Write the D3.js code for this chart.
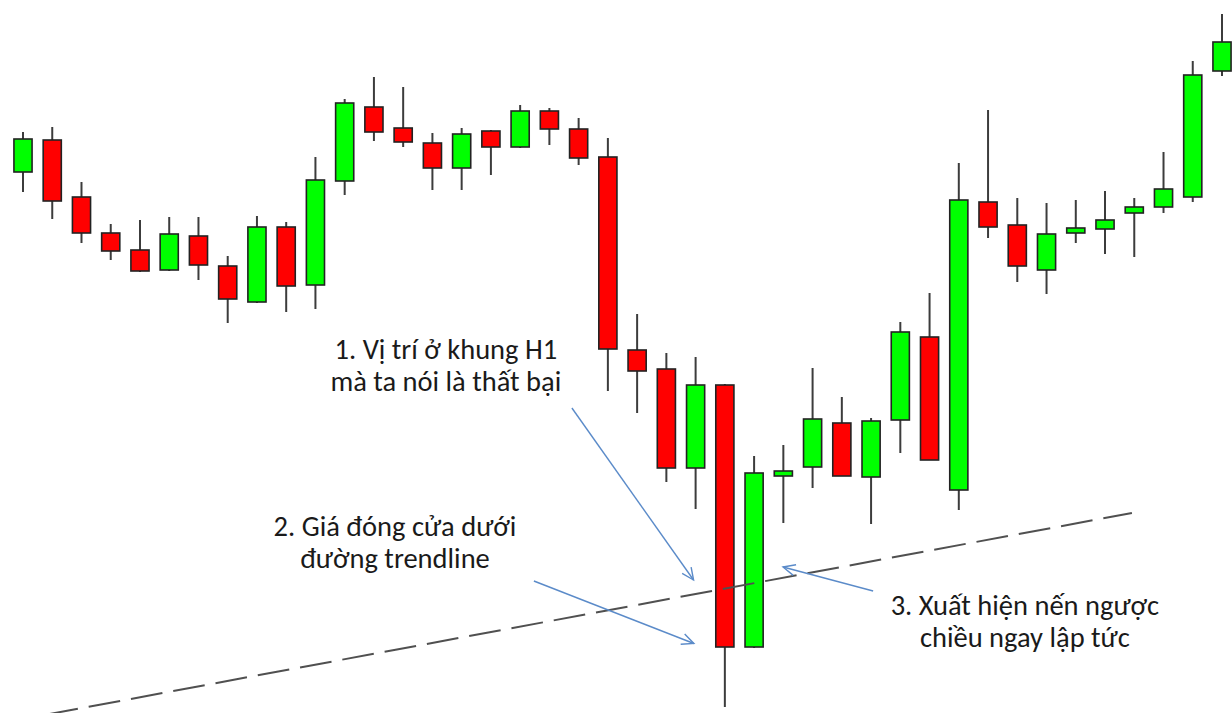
<!DOCTYPE html>
<html>
<head>
<meta charset="utf-8">
<script src="https://cdn.jsdelivr.net/npm/d3@7"></script>
<style>
  html, body { margin: 0; padding: 0; background: #fff; }
  #chart-container { width: 1232px; height: 713px; overflow: hidden; }
  text { font-family: Calibri, Carlito, Lato, "Open Sans", sans-serif; }
</style>
</head>
<body>
<div id="chart-container"></div>
<script>
   // candle index (no time labels on the picture)
   const candles = d3.range(42);

   // prices in points
   const opens  = [548, 580, 523, 487, 470, 450, 484, 454, 418, 493, 435, 539, 613, 592, 577, 552, 589, 573, 609, 591, 563,
                   370, 351, 252, 335,  73, 244, 253, 297, 243, 300, 383, 230, 518, 495, 450, 487, 491, 507, 513, 523, 649];
   const highs  = [588, 593, 538, 496, 500, 503, 503, 464, 504, 498, 563, 621, 643, 633, 587, 592, 590, 615, 612, 602, 582,
                   406, 367, 363, 336, 264, 275, 352, 323, 302, 398, 427, 557, 610, 522, 517, 520, 529, 522, 568, 659, 706];
   const lows   = [528, 501, 477, 460, 448, 449, 440, 397, 417, 408, 411, 525, 579, 573, 530, 530, 545, 572, 575, 555, 329,
                   307, 238, 211,  13,  72, 197, 232, 244, 196, 267, 260, 210, 482, 438, 426, 477, 466, 463, 507, 518, 644];
   const closes = [581, 519, 487, 469, 449, 486, 455, 421, 493, 434, 540, 617, 588, 578, 552, 586, 573, 609, 591, 562, 371,
                   349, 252, 335,  73, 247, 249, 301, 244, 299, 388, 260, 520, 493, 454, 486, 492, 500, 513, 531, 645, 678];

   // dashed trendline: [candle index, price]
   const trendline = [[0.8, 5.4], [37.92, 207]];

   // notes: [index, price] from -> to
   const arrows = [
       { from: [18.77, 312], to: [22.93, 140] },
       { from: [17.47, 139], to: [22.94, 76.5] },
       { from: [29.07, 129], to: [25.99, 153] }
   ];
   const notes = [
       { at: [14.46, 361], lines: ["1. Vị trí ở khung H1", "mà ta nói là thất bại"] },
       { at: [12.72, 184], lines: ["2. Giá đóng cửa dưới", "đường trendline"] },
       { at: [34.26, 105], lines: ["3. Xuất hiện nến ngược", "chiều ngay lập tức"] }
   ];

   const data = candles.map(i => ({
       i, open: opens[i], high: highs[i], low: lows[i], close: closes[i]
   }));

   const margin = { right: 0, top: 0, left: 0, bottom: 0 };
   const width = 1232 - margin.left - margin.right;
   const height = 713 - margin.top - margin.bottom;

   const x = d3.scaleLinear()
       .domain([0, 41])
       .range([23, 1222]);

   const y = d3.scaleLinear()
       .domain([0, 720])
       .range([720, 0]);

   const bodyW = (x(1) - x(0)) * 0.62;

   const svg = d3.select("#chart-container")
       .append("svg")
       .attr("width", width + margin.left + margin.right)
       .attr("height", height + margin.top + margin.bottom)
       .append("g")
       .attr("transform", `translate(${margin.left},${margin.top})`);

   svg.append("defs").append("marker")
       .attr("id", "head")
       .attr("markerUnits", "userSpaceOnUse")
       .attr("viewBox", "-14 -8 16 16")
       .attr("markerWidth", 16)
       .attr("markerHeight", 16)
       .attr("orient", "auto")
       .append("path")
       .attr("d", "M-12,-5.5L0,0L-12,5.5")
       .attr("fill", "none")
       .attr("stroke", "#5b8bc9")
       .attr("stroke-width", 1.4);

   const candle = svg.append("g")
       .selectAll("g")
       .data(data)
       .join("g");

   candle.append("line")
       .attr("x1", d => x(d.i))
       .attr("x2", d => x(d.i))
       .attr("y1", d => y(d.high))
       .attr("y2", d => y(d.low))
       .attr("stroke", "#3c3c3c")
       .attr("stroke-width", 2);

   candle.append("rect")
       .attr("x", d => x(d.i) - bodyW / 2)
       .attr("y", d => y(Math.max(d.open, d.close)))
       .attr("width", bodyW)
       .attr("height", d => Math.max(1, Math.abs(y(d.open) - y(d.close))))
       .attr("fill", d => d.close >= d.open ? "#00ff00" : "#ff0000")
       .attr("stroke", "#222")
       .attr("stroke-width", 1.6);

   const line = d3.line()
       .x(d => x(d[0]))
       .y(d => y(d[1]));

   svg.append("path")
       .datum(trendline)
       .attr("fill", "none")
       .attr("stroke", "#505050")
       .attr("stroke-width", 2)
       .attr("stroke-dasharray", "32,11")
       .attr("d", line);

   svg.append("g")
       .selectAll("line")
       .data(arrows)
       .join("line")
       .attr("x1", d => x(d.from[0]))
       .attr("y1", d => y(d.from[1]))
       .attr("x2", d => x(d.to[0]))
       .attr("y2", d => y(d.to[1]))
       .attr("stroke", "#5b8bc9")
       .attr("stroke-width", 1.4)
       .attr("marker-end", "url(#head)");

   const note = svg.append("g")
       .selectAll("text")
       .data(notes)
       .join("text")
       .attr("text-anchor", "middle")
       .attr("font-size", 28.5)
       .attr("fill", "#1a1a1a");

   note.selectAll("tspan")
       .data(d => d.lines.map((t, k) => ({ t, k, at: d.at })))
       .join("tspan")
       .attr("x", d => x(d.at[0]))
       .attr("y", d => y(d.at[1]) + d.k * 32)
       .text(d => d.t);
</script>
</body>
</html>
